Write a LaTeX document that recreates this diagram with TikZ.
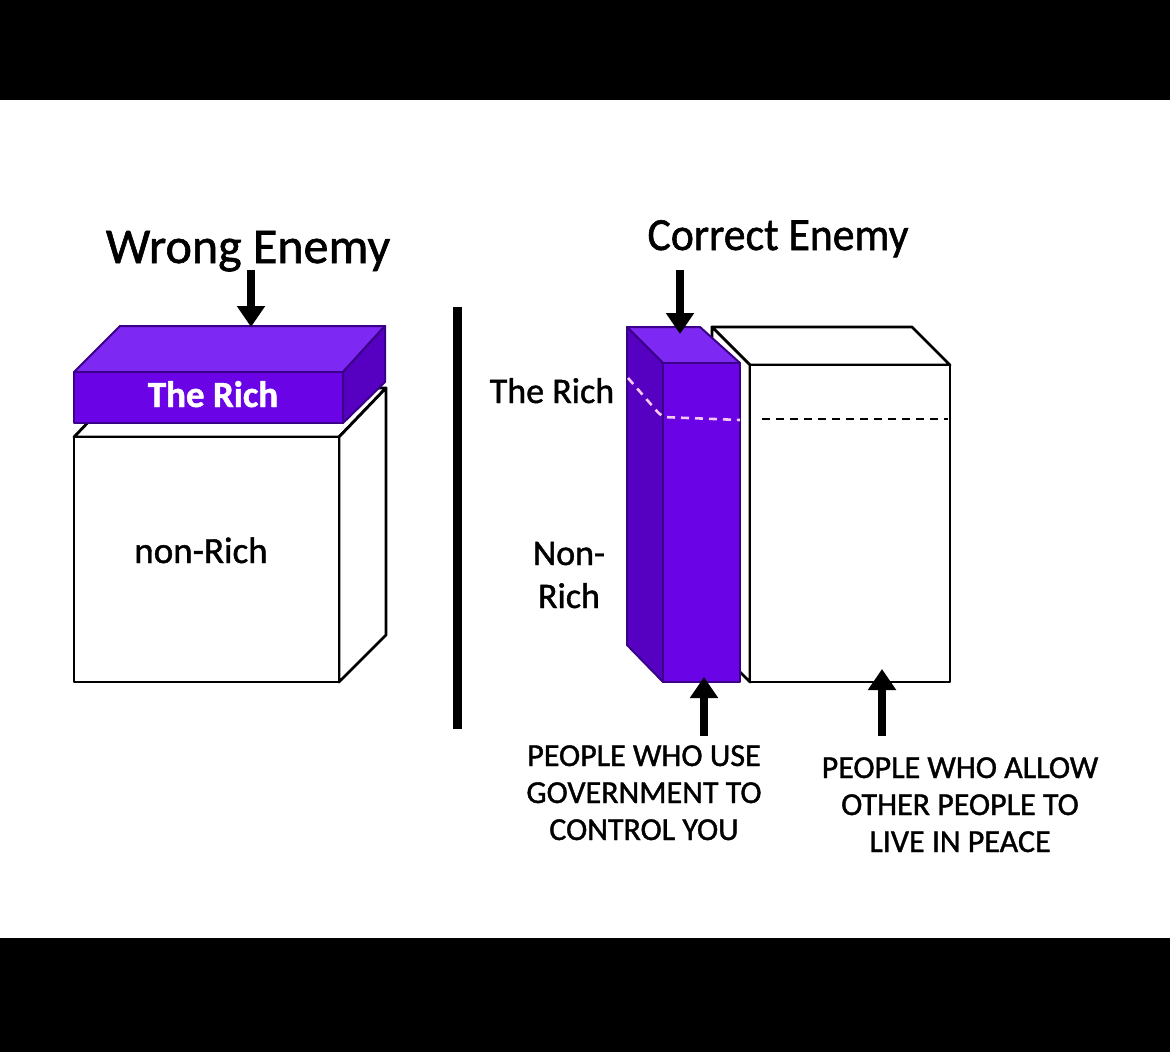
\documentclass[tikz,border=0pt]{standalone}
\usepackage{fontspec}
\setmainfont{Carlito}[FakeBold=1.2]
\usetikzlibrary{arrows.meta}
\definecolor{pfront}{HTML}{6A04E6}
\definecolor{ptop}{HTML}{7E28F4}
\definecolor{pside}{HTML}{5600C2}
\definecolor{pedge}{HTML}{3A0088}
\definecolor{dashpink}{HTML}{F4C8F0}
\tikzset{
  wbox/.style={draw=black, fill=white, line width=2.8pt, line join=round},
  pbox/.style={draw=pedge, line width=2pt, line join=round},
  bigarrow/.style={line width=8pt, -{Triangle[width=27pt,length=21pt]}},
  title/.style={anchor=base, inner sep=0pt},
  lab/.style={font=\fontsize{36}{43}\selectfont, anchor=base, inner sep=0pt, align=center},
  caps/.style={font=\fontsize{32}{37}\selectfont, anchor=base, inner sep=0pt, align=center},
}
\begin{document}
\begin{tikzpicture}[x=1pt,y=-1pt]
\useasboundingbox (0,0) rectangle (1170,1052);
\fill[white] (0,0) rectangle (1170,1052);
\fill[black] (0,0) rectangle (1170,100);
\fill[black] (0,938) rectangle (1170,1052);

% ---------- left: wrong enemy ----------
% white box
\draw[wbox] (74,437) -- (121,388) -- (386,388) -- (339,437) -- cycle;
\draw[wbox] (339,437) -- (386,388) -- (386,635) -- (339,682) -- cycle;
\draw[wbox] (74,437) rectangle (339,682);
% purple slab
\draw[pbox, fill=ptop] (74,372) -- (120,326) -- (385,326) -- (343,372) -- cycle;
\draw[pbox, fill=pside] (343,372) -- (385,326) -- (385,382) -- (343,423) -- cycle;
\draw[pbox, fill=pfront] (74,372) rectangle (343,423);
\node[lab, text=white, font=\bfseries\fontsize{37}{43}\selectfont] (slabtxt) at (213,407) {The Rich};
\node[lab, font=\fontsize{37}{43}\selectfont] (nonrich) at (201,563) {non-Rich};

\node[title, font=\fontsize{50}{54}\selectfont] (wrong) at (248,263) {Wrong Enemy};
\coordinate (wrongtip) at (251,327);
\coordinate (wrongtail) at (251,270);
\draw[bigarrow] (wrongtail) -- (wrongtip);

% divider
\coordinate (divtop) at (457,307);
\coordinate (divbot) at (457,729);
\draw[line width=9pt] (divtop) -- (divbot);

% ---------- right: correct enemy ----------
% white box
\draw[wbox] (712,327) -- (912,327) -- (950,365) -- (750,365) -- cycle;
\draw[wbox] (712,327) -- (750,365) -- (750,682) -- (712,644) -- cycle;
\draw[wbox] (750,365) rectangle (950,682);
\draw[line width=2.2pt, dash pattern=on 8pt off 6pt] (762,419) -- (948,419);
% purple column
\draw[pbox, fill=ptop] (627,327) -- (700,327) -- (740,363) -- (663,363) -- cycle;
\draw[pbox, fill=pside] (627,327) -- (663,363) -- (663,682) -- (627,645) -- cycle;
\draw[pbox, fill=pfront] (663,363) rectangle (740,682);
\draw[dashpink, line width=2.6pt, dash pattern=on 8pt off 6pt, rounded corners=6pt] (628,378) -- (662,417) -- (740,420);

\node[title, font=\fontsize{46}{50}\selectfont, xscale=0.95] (correct) at (778,250) {Correct Enemy};
\coordinate (cortip) at (680,334);
\coordinate (cortail) at (680,270);
\draw[bigarrow] (cortail) -- (cortip);

\node[lab] (richlab) at (552,403) {The Rich};
\node[lab] (nonrichlab) at (569,608) {Non-\\Rich};

\coordinate (a1tail) at (704,736);
\coordinate (a1tip) at (704,677);
\draw[bigarrow] (a1tail) -- (a1tip);
\coordinate (a2tail) at (882,736);
\coordinate (a2tip) at (882,669);
\draw[bigarrow] (a2tail) -- (a2tip);

\node[caps] (usegov) at (644,840) {PEOPLE WHO USE\\GOVERNMENT TO\\CONTROL YOU};
\node[caps] (allow) at (960,852) {PEOPLE WHO ALLOW\\OTHER PEOPLE TO\\LIVE IN PEACE};
\end{tikzpicture}
\end{document}
